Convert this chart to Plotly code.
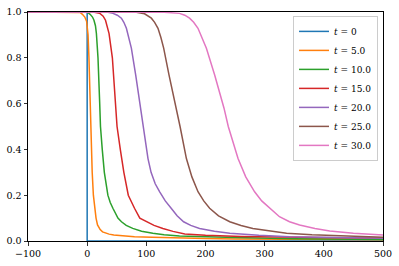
import plotly.graph_objects as go

labels = ["<i>t</i> = 0", "<i>t</i> = 5.0", "<i>t</i> = 10.0", "<i>t</i> = 15.0",
          "<i>t</i> = 20.0", "<i>t</i> = 25.0", "<i>t</i> = 30.0"]
colors = ["#1f77b4", "#ff7f0e", "#2ca02c", "#d62728", "#9467bd", "#8c564b", "#e377c2"]

x_t0 = [-100, 0, 0, 500]
y_t0 = [1, 1, 0, 0]

x_t5 = [-100, -20, -12, -8, -4, -1, 1.5, 3, 4, 4.8, 6, 7.2, 8.5, 10.5, 13, 15, 17.5, 22, 26, 31, 37, 45, 60, 80, 110, 150, 200, 250, 320, 400, 500]
y_t5 = [1, 1, 0.998, 0.99, 0.978, 0.96, 0.9, 0.8, 0.7, 0.6, 0.5, 0.4, 0.3, 0.2, 0.135, 0.1, 0.07, 0.05, 0.04, 0.034, 0.03, 0.026, 0.022, 0.019, 0.016, 0.013, 0.011, 0.009, 0.008, 0.007, 0.006]

x_t10 = [-100, -10, 0, 5, 9, 11.5, 14, 15.6, 18.3, 21.2, 22.5, 25.5, 29, 35, 39, 43.5, 52, 58, 66, 77, 92, 111, 130, 156, 200, 250, 350, 500]
y_t10 = [1, 1, 0.999, 0.99, 0.978, 0.964, 0.94, 0.906, 0.8, 0.6, 0.5, 0.4, 0.3, 0.2, 0.168, 0.143, 0.1, 0.084, 0.068, 0.055, 0.043, 0.034, 0.027, 0.022, 0.018, 0.015, 0.01, 0.007]

x_t15 = [-100, 10, 21, 27, 31, 34, 37, 42.6, 48, 50.5, 56, 62, 69.5, 75, 80, 89, 100, 113, 128, 145, 165, 200, 260, 340, 420, 500]
y_t15 = [1, 1, 0.995, 0.982, 0.964, 0.94, 0.906, 0.8, 0.6, 0.5, 0.4, 0.3, 0.2, 0.168, 0.143, 0.1, 0.084, 0.068, 0.055, 0.042, 0.031, 0.025, 0.02, 0.016, 0.014, 0.012]

x_t20 = [-100, 20, 35, 43.7, 51, 57.8, 62, 66.3, 70.5, 74.7, 82, 90, 95, 102.8, 108, 115, 122.6, 132, 142, 152, 163, 175, 190, 215, 241, 290, 342, 420, 500]
y_t20 = [1, 1, 0.999, 0.994, 0.986, 0.973, 0.955, 0.929, 0.89, 0.842, 0.725, 0.58, 0.5, 0.36, 0.3, 0.25, 0.215, 0.175, 0.143, 0.11, 0.084, 0.068, 0.055, 0.043, 0.034, 0.025, 0.019, 0.015, 0.012]

x_t25 = [-100, 60, 83, 97, 108.5, 114, 119.7, 124.5, 129.3, 138.3, 150.8, 157, 167.7, 177, 187.3, 197, 207, 222, 241, 260, 280, 310, 337, 380, 440, 500]
y_t25 = [1, 1, 0.999, 0.992, 0.973, 0.955, 0.929, 0.89, 0.842, 0.725, 0.58, 0.5, 0.36, 0.28, 0.215, 0.175, 0.143, 0.11, 0.084, 0.068, 0.055, 0.043, 0.034, 0.027, 0.02, 0.016]

x_t30 = [-100, 100, 130, 156, 165, 173, 180, 187.3, 194, 201.5, 215.5, 231.3, 238.5, 255, 268, 283, 295, 308.5, 325, 342, 359, 385, 410, 450, 500]
y_t30 = [1, 1, 0.999, 0.994, 0.986, 0.973, 0.955, 0.929, 0.89, 0.842, 0.725, 0.58, 0.5, 0.36, 0.28, 0.215, 0.175, 0.143, 0.106, 0.084, 0.07, 0.055, 0.044, 0.034, 0.026]

series_x = [x_t0, x_t5, x_t10, x_t15, x_t20, x_t25, x_t30]
series_y = [y_t0, y_t5, y_t10, y_t15, y_t20, y_t25, y_t30]

fig = go.Figure()
for xs, ys, lab, col in zip(series_x, series_y, labels, colors):
    fig.add_trace(go.Scatter(x=xs, y=ys, mode="lines", name=lab,
                             line=dict(color=col, width=1.5)))

font_family = "DejaVu Serif"
axis_common = dict(showline=True, linecolor="black", linewidth=1, mirror=True,
                   ticks="outside", ticklen=3.5, tickwidth=0.8, tickcolor="black",
                   showgrid=False, zeroline=False, automargin=False,
                   tickfont=dict(family=font_family, size=9.5, color="black"))

fig.update_layout(
    width=399, height=266,
    margin=dict(l=28, r=16, t=12, b=25),
    paper_bgcolor="white", plot_bgcolor="white",
    showlegend=True,
    legend=dict(x=0.986, y=0.983, xanchor="right", yanchor="top",
                bgcolor="rgba(255,255,255,0.8)", bordercolor="#cccccc", borderwidth=1,
                font=dict(family=font_family, size=9, color="black"),
                tracegroupgap=0, itemwidth=30),
    xaxis=dict(range=[-100, 500], tickvals=[-100, 0, 100, 200, 300, 400, 500], **axis_common),
    yaxis=dict(range=[0, 1], tickvals=[0, 0.2, 0.4, 0.6, 0.8, 1.0], tickformat=".1f", **axis_common),
)

fig.write_html("out.html", config={"displayModeBar": False, "staticPlot": True},
               post_script="document.body.style.margin='0';document.body.style.overflow='hidden';")
